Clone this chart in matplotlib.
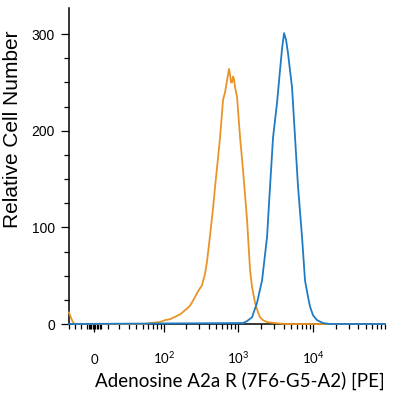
import numpy as np
import matplotlib
matplotlib.use("Agg")
import matplotlib.pyplot as plt
from matplotlib.ticker import FixedLocator, NullFormatter

# intensity (PE) vs relative cell count
isotype_x = [-20, -18, -16, -14, 4, 54, 64, 88, 103, 121, 165, 205, 225, 254, 279,
             306, 325, 357, 380, 417, 457, 486, 533, 567, 622, 662, 703, 748, 772,
             795, 820, 846, 873, 900, 957, 1050, 1151, 1302, 1427, 1519, 1666, 1826,
             1943, 2130, 2409, 3082, 4193, 13490, 90000]
isotype_y = [12, 6, 1, 0, 0, 0, 1, 2, 4, 5, 10, 16, 19, 26, 32,
             37, 40, 52, 65, 92, 120, 142, 172, 193, 232, 240, 252, 264, 258,
             250, 250, 256, 253, 245, 235, 193, 159, 108, 56, 38, 22, 12,
             7, 4, 2, 1, 0, 0, 0]

a2a_x = [-20, 1151, 1302, 1519, 1771, 2066, 2409, 2641, 2898, 3278, 3595, 3824,
         4066, 4325, 4598, 4891, 5200, 5704, 6254, 7071, 7754, 8507, 9043, 9920,
         11223, 13490, 16740, 90000]
a2a_y = [0, 1, 3, 7, 22, 45, 90, 142, 193, 229, 263, 285,
         301, 294, 280, 262, 245, 193, 142, 90, 45, 28, 18, 9,
         4, 1, 0, 0]

xticks = [0, 100, 1000, 10000]
xticklabels = ["0", "$10^2$", "$10^3$", "$10^4$"]
yticks = [0, 100, 200, 300]

C = 23.5  # linear width of the asinh-type display around zero


def fwd(x):
    return np.arcsinh(np.asarray(x, dtype=float) / C)


def inv(y):
    return C * np.sinh(y)


plt.rcParams["mathtext.fontset"] = "custom"
plt.rcParams["mathtext.rm"] = "Lato"
plt.rcParams["mathtext.it"] = "Lato"

fig = plt.figure(figsize=(3.93, 4.0), dpi=100)
ax = fig.add_axes([69 / 393, 76 / 400, 316 / 393, 316 / 400])

ax.plot(isotype_x, isotype_y, color="#EA9428", lw=1.3, zorder=3, clip_on=False)
ax.plot(a2a_x, a2a_y, color="#1F7BC4", lw=1.3, zorder=4, clip_on=False)

ax.set_xscale("function", functions=(fwd, inv))
ax.set_xlim(-20, 90900)
ax.set_ylim(0, 327)

minors = list(range(-20, 0, 5)) + list(range(-4, 6))
for dec in [10, 100, 1000, 10000]:
    minors += [m * dec for m in range(1, 10) if m * dec not in xticks]
ax.xaxis.set_major_locator(FixedLocator(xticks))
ax.xaxis.set_minor_locator(FixedLocator(minors))
ax.xaxis.set_minor_formatter(NullFormatter())
ax.set_xticklabels(xticklabels, fontsize=9.5, family="Lato")
for lab in ax.get_xticklabels():
    lab.set_verticalalignment("baseline")

ax.set_yticks(yticks)
ax.yaxis.set_minor_locator(FixedLocator([25, 50, 75, 125, 150, 175, 225, 250, 275]))
ax.set_yticklabels([str(v) for v in yticks], fontsize=10, family="Liberation Sans")

ax.tick_params(axis="x", which="major", direction="out", length=6, width=0.9, pad=23)
ax.tick_params(axis="x", which="minor", direction="out", length=3.5, width=0.9)
ax.tick_params(axis="y", which="major", direction="out", length=6, width=0.9, pad=4)
ax.tick_params(axis="y", which="minor", direction="out", length=3.5, width=0.9)

for s in ["top", "right"]:
    ax.spines[s].set_visible(False)
for s in ["left", "bottom"]:
    ax.spines[s].set_linewidth(1.1)

ax.set_ylabel("Relative Cell Number", fontsize=15, family="Liberation Sans")
ax.set_xlabel("Adenosine A2a R (7F6-G5-A2) [PE]", fontsize=13.5, family="Lato")
ax.xaxis.set_label_coords(0.541, -0.152)
ax.yaxis.set_label_coords(-0.149, 0.617)

fig.savefig("out.png", dpi=100)
